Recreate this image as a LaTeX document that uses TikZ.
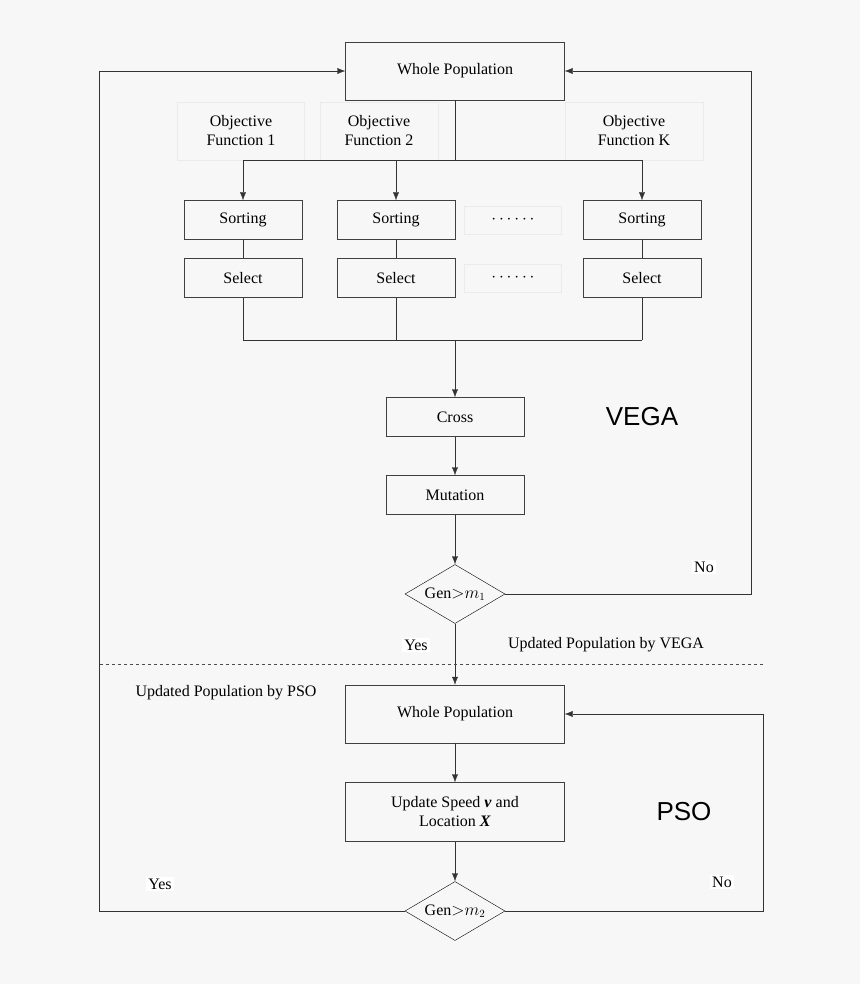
\documentclass[tikz,border=0pt]{standalone}
\usepackage{fontspec}
\setmainfont{Liberation Serif}
\setsansfont{Liberation Sans}
\usetikzlibrary{positioning, shapes.geometric, arrows.meta}
\definecolor{bgc}{HTML}{F7F7F7}
\begin{document}
\begin{tikzpicture}[x=1pt, y=-1pt, >={Latex[length=8pt,width=6pt]}, draw=black!80, font=\fontsize{16}{19}\selectfont]
	\tikzstyle{block}=[draw=black!75, rectangle, fill=none, inner sep=0pt, align=center]
	\tikzstyle{faint}=[draw=black!8, rectangle, inner sep=0pt, align=center]
	\tikzstyle{decide}=[draw=black, diamond, aspect=1.7, minimum width=100pt, minimum height=59pt, inner sep=0pt]
	\tikzstyle{tag}=[fill=white, inner sep=2pt]
	\fill[bgc] (0,0) rectangle (860,984);
	
	\node[block, minimum width=219pt, minimum height=58pt] (wp1) at (455,71) {Whole Population};
	\node[faint, minimum width=127pt, minimum height=58pt] (of1) at (241,131) {Objective\\Function 1};
	\node[faint, minimum width=118pt, minimum height=58pt] (of2) at (379,131) {Objective\\Function 2};
	\node[faint, minimum width=138pt, minimum height=58pt] (ofk) at (634,131) {Objective\\Function K};
	\foreach \n/\x in {a/243, b/396, k/642} {
		\node[block, minimum width=118pt, minimum height=39pt] (sort\n) at (\x,220) {Sorting};
		\node[block, minimum width=118pt, minimum height=39pt] (sel\n) at (\x,278) {Select};
	}
	\node[faint, minimum width=97pt, minimum height=28pt] (dots1) at (513,220) {$\cdots\cdots$};
	\node[faint, minimum width=97pt, minimum height=28pt] (dots2) at (513,278) {$\cdots\cdots$};
	\node[block, minimum width=138pt, minimum height=39pt] (cross) at (455,417) {Cross};
	\node[block, minimum width=138pt, minimum height=39pt] (mut) at (455,495) {Mutation};
	\node[decide] (gen1) at (455,594) {Gen$>$$m_1$};
	\node[block, minimum width=219pt, minimum height=58pt] (wp2) at (455,714) {Whole Population};
	\node[block, minimum width=219pt, minimum height=59pt] (upd) at (455,812) {Update Speed \textbf{\textit{v}} and\\Location \textbf{\textit{X}}};
	\node[decide] (gen2) at (455,911) {Gen$>$$m_2$};
	
	\coordinate (split) at (455,160);
	\coordinate (merge) at (455,340);
	\draw (wp1) -- (split);
	\draw (243,160) -- (642,160);
	\foreach \n/\x in {a/243, b/396, k/642} {
		\draw[->] (\x,160) -- (sort\n);
		\draw (sort\n) -- (sel\n);
		\draw (sel\n) -- (\x,340);
	}
	\draw (243,340) -- (642,340);
	\draw[->] (merge) -- (cross);
	\draw[->] (cross) -- (mut);
	\draw[->] (mut) -- (gen1);
	\draw[->] (gen1.east) -- (751,594) -- (751,71) -- (wp1.east);
	\draw[->] (gen1) -- (wp2);
	\draw[->] (wp2) -- (upd);
	\draw[->] (upd) -- (gen2);
	\draw[->] (gen2.east) -- (763,911) -- (763,714) -- (wp2.east);
	\draw[->] (gen2.west) -- (99,911) -- (99,71) -- (wp1.west);
	\draw[dashed, black!70] (100,664) -- (763,664);
	
	\node[tag] (no1) at (704,567) {No};
	\node[tag] (yes1) at (416,645) {Yes};
	\node (vega1) at (606,645) {Updated Population by VEGA};
	\node (pso1) at (226,693) {Updated Population by PSO};
	\node[tag] (yes2) at (160,884) {Yes};
	\node[tag] (no2) at (722,882) {No};
	\node[font=\sffamily\fontsize{26}{30}\selectfont] (vega) at (642,417) {VEGA};
	\node[font=\sffamily\fontsize{26}{30}\selectfont] (pso) at (684,812) {PSO};
\end{tikzpicture}
\end{document}
